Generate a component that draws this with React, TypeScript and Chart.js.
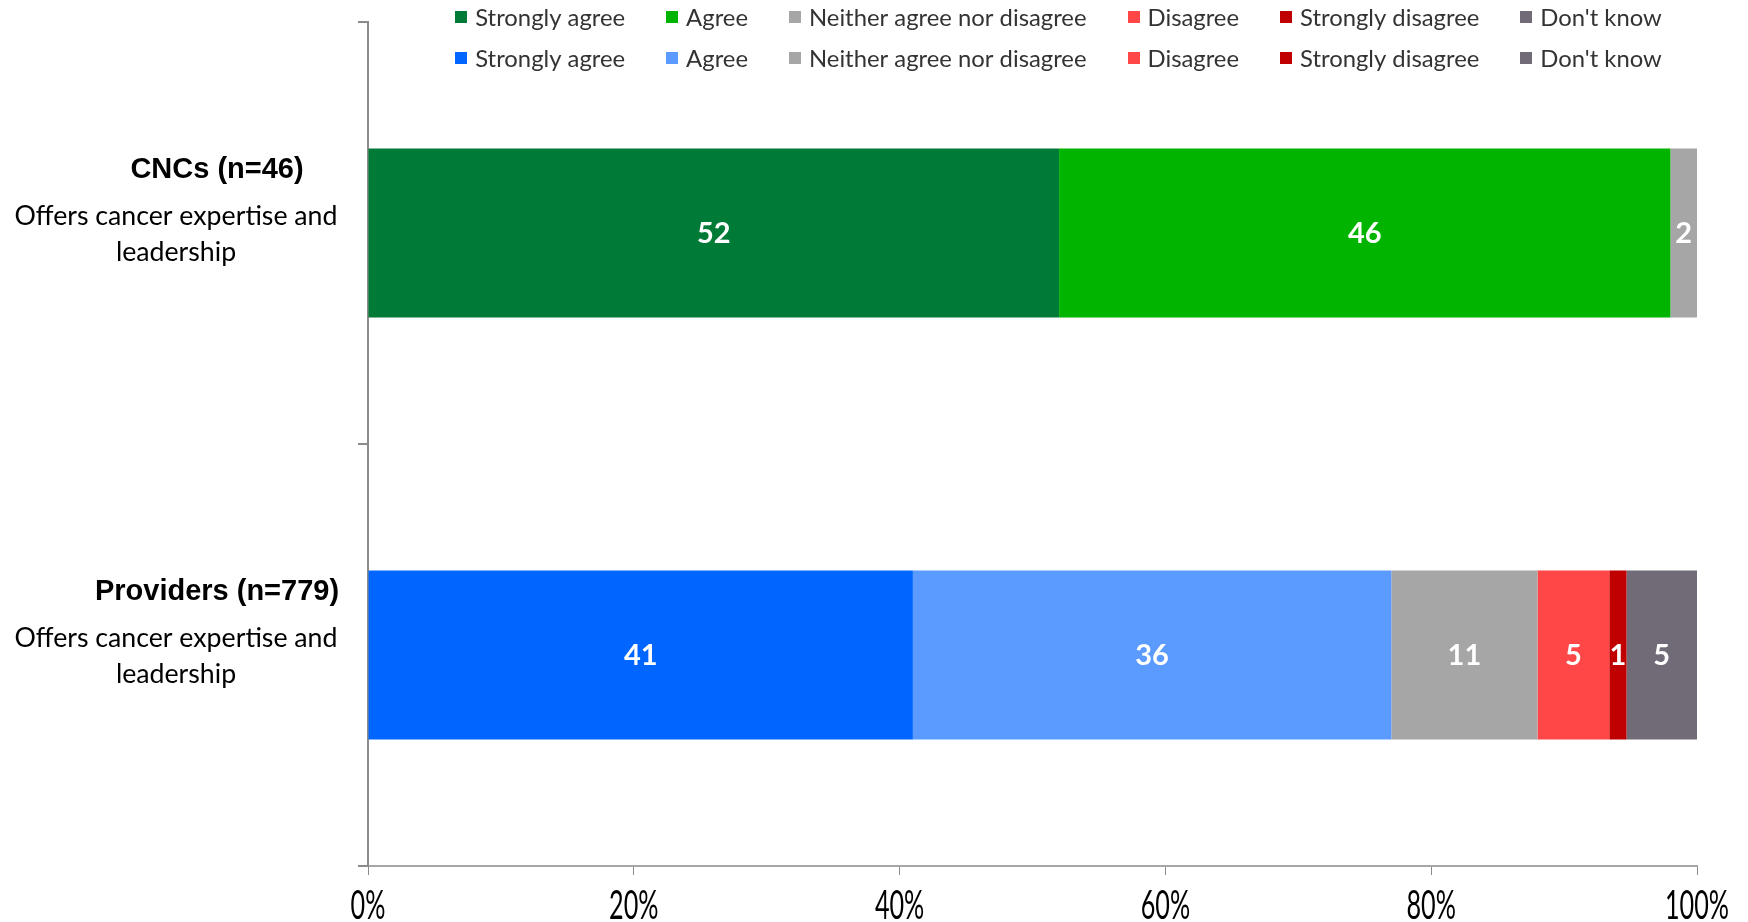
import React, { useEffect, useRef } from "react";
import { Chart, registerables } from "chart.js";

Chart.register(...registerables);

const categories = ["CNCs (n=46)", "Providers (n=779)"];
const categoryDescription = ["Offers cancer expertise and", "leadership"];
const responseLabels = [
  "Strongly agree",
  "Agree",
  "Neither agree nor disagree",
  "Disagree",
  "Strongly disagree",
  "Don't know",
];
const cncValues = [52, 46, 2, 0, 0, 0];
const providerValues = [41, 36, 11, 5.4, 1.3, 5.3];
const cncColors = ["#007A37", "#00B400", "#A6A6A6", "#FF4747", "#C00000", "#716B77"];
const providerColors = ["#0066FF", "#5B9BFF", "#A6A6A6", "#FF4747", "#C00000", "#716B77"];
const xTickValues = [0, 20, 40, 60, 80, 100];

const W = 1748;
const H = 922;

function fitSize(ctx: CanvasRenderingContext2D, text: string, target: number, family: string, weight: string) {
  ctx.font = `${weight} 40px ${family}`;
  const w = ctx.measureText(text).width;
  return (40 * target) / w;
}

const customDraw = {
  id: "customDraw",
  afterDatasetsDraw(chart: any) {
    const ctx: CanvasRenderingContext2D = chart.ctx;
    ctx.save();
    ctx.fillStyle = "#FFFFFF";
    ctx.textAlign = "center";
    ctx.textBaseline = "middle";
    ctx.font = "bold 29px Lato";
    chart.data.datasets.forEach((ds: any, i: number) => {
      const meta = chart.getDatasetMeta(i);
      meta.data.forEach((el: any, j: number) => {
        const v = ds.data[j];
        if (v == null || v <= 0) return;
        const p = el.getProps(["x", "base", "y"], true);
        ctx.fillText(String(Math.round(v)), (p.x + p.base) / 2, p.y + 1);
      });
    });
    ctx.restore();
  },
  afterDraw(chart: any) {
    const ctx: CanvasRenderingContext2D = chart.ctx;
    const xScale = chart.scales.x;
    const yScale = chart.scales.y;
    ctx.save();

    // Legend (two rows, one per group)
    const legendSize = fitSize(ctx, "Strongly agree", 150, "Lato", "normal");
    ctx.font = `normal ${legendSize}px Lato`;
    ctx.textBaseline = "middle";
    ctx.textAlign = "left";
    const rows = [0, 1];
    const rowY = [17, 58];
    rows.forEach((r) => {
      const items = chart.data.datasets.filter((d: any) => d.group === r);
      const widths = items.map((d: any) => 12 + 8 + ctx.measureText(d.label).width);
      const gap = 41;
      const total = widths.reduce((a: number, b: number) => a + b, 0) + gap * (items.length - 1);
      let x = 1058.5 - total / 2;
      items.forEach((d: any, k: number) => {
        ctx.fillStyle = d.backgroundColor;
        ctx.fillRect(Math.round(x), rowY[r] - 6, 12, 12);
        ctx.fillStyle = "#333333";
        ctx.fillText(d.label, x + 20, rowY[r] + 1);
        x += widths[k] + gap;
      });
    });

    // Y category labels
    const titleSize = 29;
    const descSize = fitSize(ctx, categoryDescription[0], 323, "Lato", "normal");
    categories.forEach((c, i) => {
      const cy = yScale.getPixelForValue(i);
      ctx.textAlign = "center";
      ctx.textBaseline = "middle";
      ctx.fillStyle = "#000000";
      ctx.font = `bold ${titleSize}px "Liberation Sans", Arial, sans-serif`;
      ctx.fillText(c, 217, cy - 63);
      ctx.font = `normal ${descSize}px Lato`;
      ctx.fillText(categoryDescription[0], 176, cy - 17);
      ctx.fillText(categoryDescription[1], 176, cy + 19);
    });

    // X tick labels (narrow style)
    ctx.font = "normal 40px Lato";
    const sx = 64 / ctx.measureText("100%").width;
    ctx.fillStyle = "#000000";
    ctx.textAlign = "center";
    ctx.textBaseline = "middle";
    xTickValues.forEach((v) => {
      const px = xScale.getPixelForValue(v);
      ctx.save();
      ctx.translate(px, 906);
      ctx.scale(sx, 1);
      ctx.fillText(`${v}%`, 0, 0);
      ctx.restore();
    });

    ctx.restore();
  },
};

export default function App() {
  const ref = useRef<HTMLCanvasElement | null>(null);

  useEffect(() => {
    document.body.style.margin = "0";
    if (!ref.current) return;
    const datasets: any[] = [];
    responseLabels.forEach((lab, k) => {
      datasets.push({
        label: lab,
        data: [cncValues[k], null],
        backgroundColor: cncColors[k],
        borderWidth: 0,
        stack: "s",
        group: 0,
      });
    });
    responseLabels.forEach((lab, k) => {
      datasets.push({
        label: lab,
        data: [null, providerValues[k]],
        backgroundColor: providerColors[k],
        borderWidth: 0,
        stack: "s",
        group: 1,
      });
    });

    const chart = new Chart(ref.current, {
      type: "bar",
      data: { labels: categories, datasets },
      options: {
        indexAxis: "y",
        responsive: false,
        maintainAspectRatio: false,
        animation: false,
        datasets: { bar: { barPercentage: 0.4, categoryPercentage: 1 } },
        layout: { padding: { top: 22, right: 51, left: 0, bottom: 0 } },
        plugins: {
          legend: { display: false },
          tooltip: { enabled: false },
        },
        scales: {
          x: {
            type: "linear",
            stacked: true,
            min: 0,
            max: 100,
            ticks: { display: false, stepSize: 20 },
            grid: {
              display: true,
              drawOnChartArea: false,
              drawTicks: true,
              tickLength: 9,
              color: "#8C8C8C",
              lineWidth: 1,
            },
            border: { display: true, color: "#A6A6A6", width: 2 },
            afterFit: (s: any) => {
              s.height = 56;
            },
          },
          y: {
            type: "category",
            stacked: true,
            ticks: { display: false },
            grid: {
              display: true,
              offset: true,
              drawOnChartArea: false,
              drawTicks: true,
              tickLength: 10,
              color: "#8C8C8C",
              lineWidth: 2,
            },
            border: { display: true, color: "#8C8C8C", width: 2 },
            afterFit: (s: any) => {
              s.width = 368;
            },
          },
        },
      } as any,
      plugins: [customDraw],
    });
    return () => chart.destroy();
  }, []);

  return (
    <div style={{ width: W, height: H, position: "relative" }}>
      <canvas ref={ref} width={W} height={H} style={{ display: "block" }} />
    </div>
  );
}
